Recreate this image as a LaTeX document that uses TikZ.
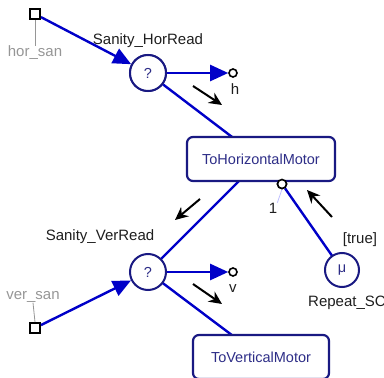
\documentclass[tikz,border=0pt]{standalone}
\usepackage{fontspec}
\setmainfont{Liberation Sans}
\usetikzlibrary{arrows.meta}
\definecolor{wire}{RGB}{0,0,200}
\definecolor{navy}{RGB}{25,25,130}
\definecolor{navytext}{RGB}{45,45,135}
\definecolor{lbl}{RGB}{30,30,30}
\definecolor{pale}{RGB}{150,150,150}
\tikzset{
  port/.style={draw=black,line width=2pt,fill=white,minimum size=10pt,inner sep=0pt},
  choice/.style={circle,draw=navy,line width=2pt,fill=white,minimum size=36pt,inner sep=0pt,text=navytext,font=\fontsize{14.5}{16}\selectfont},
  outpin/.style={circle,draw=black,line width=1.6pt,fill=white,minimum size=8pt,inner sep=0pt},
  task/.style={rectangle,rounded corners=6pt,draw=navy,line width=2.2pt,fill=white,minimum width=148pt,minimum height=44pt,text=navytext,font=\fontsize{14.5}{17}\selectfont},
  lab/.style={text=lbl,font=\fontsize{15}{17}\selectfont,inner sep=0pt},
  pale label/.style={text=pale,font=\fontsize{15}{17}\selectfont,inner sep=0pt},
  wireline/.style={draw=wire,line width=2.4pt},
  wirearrow/.style={wireline,-{Triangle[length=18pt,width=16pt]}},
  flow/.style={draw=black,line width=2pt,-{Stealth[length=13pt,width=12pt]}},
}
\begin{document}
\begin{tikzpicture}[x=1pt,y=-1pt]
\useasboundingbox (0,0) rectangle (384,378);
% nodes
\node[choice] (hr) at (148,73) {?};
\node[lab] (hrl) at (148,41) {Sanity\_HorRead};
\node[port] (hs) at (35,14) {};
\node[pale label] (hsl) at (35,53) {hor\_san};
\node[outpin] (ho) at (233,73) {};
\node[lab] (hl) at (235,89) {h};
\node[outpin,minimum size=9pt] (p1) at (282,184) {};
\node[lab] (l1) at (273,208) {1};
\node[lab,anchor=west] (rsc) at (308,303) {Repeat\_SC};
\node[lab] (tr) at (360,240) {[true]};
\node[lab] (vrl) at (100,237) {Sanity\_VerRead};
\node[port] (vs) at (35,328) {};
\node[pale label] (vsl) at (33,297) {ver\_san};
\node[outpin] (vo) at (233,272) {};
\node[lab] (vl) at (233,289) {v};
\coordinate (vr) at (148,272);
\coordinate (thm) at (261,159);
\coordinate (tvm) at (261,357);
\coordinate (mu) at (342,270);
% pale leader lines
\draw[pale,line width=0.8pt] (hs.south) -- (hsl.north);
\draw[pale,line width=0.8pt] (vs.north) -- (vsl.south);
\draw[blue!25,line width=0.8pt] (p1.south) -- (l1.north east);
% wires (plain)
\draw[wireline] (hr) -- (thm);
\draw[wireline] (thm) -- (vr);
\draw[wireline] (vr) -- (tvm);
\draw[wireline] (p1) -- (mu);
% nodes drawn over wire ends
\node[choice] (vrn) at (vr) {?};
\node[task] (thmn) at (thm) {ToHorizontalMotor};
\node[task,minimum width=136pt] (tvmn) at (tvm) {ToVerticalMotor};
\node[choice,minimum size=34pt] (mun) at (mu) {μ};
\node[outpin,minimum size=9pt] at (p1) {};
\node[choice] at (hr) {?};
% wires with arrows
\draw[wirearrow] (hs) -- (hr);
\draw[wirearrow] (hr) -- (ho);
\draw[wirearrow] (vs) -- (vrn);
\draw[wirearrow] (vrn) -- (vo);
% flow arrows
\coordinate (a1s) at (193,86); \coordinate (a1e) at (222,105);
\coordinate (a2s) at (332,217); \coordinate (a2e) at (307,190);
\coordinate (a3s) at (200,199); \coordinate (a3e) at (175,220);
\coordinate (a4s) at (193,284); \coordinate (a4e) at (222,304);
\draw[flow] (a1s) -- (a1e);
\draw[flow] (a2s) -- (a2e);
\draw[flow] (a3s) -- (a3e);
\draw[flow] (a4s) -- (a4e);
\end{tikzpicture}
\end{document}
